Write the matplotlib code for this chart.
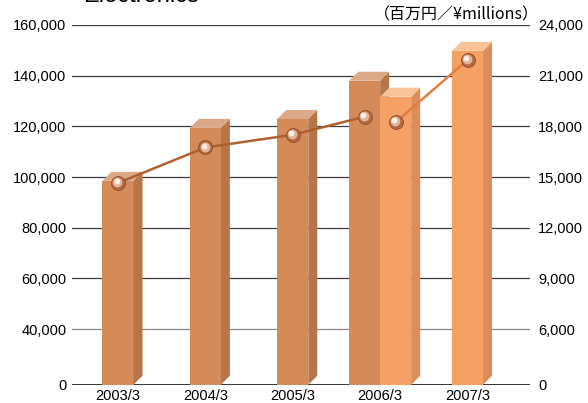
import numpy as np
import matplotlib
matplotlib.use('Agg')
import matplotlib.pyplot as plt
from matplotlib.patches import Polygon
from matplotlib.transforms import IdentityTransform

plt.rcParams['font.family'] = ['Liberation Sans', 'DejaVu Sans']

# data
years = ['2003/3', '2004/3', '2005/3', '2006/3', '2007/3']
sales_old = [98500, 119400, 122900, 138000]        # left axis, 2003-2006
sales_new = [131700, 149800]                        # left axis, 2006-2007
income_old = [14650, 16750, 17500, 18570]           # right axis
income_new = [18240, 21930]
left_ticks = [0, 40000, 60000, 80000, 100000, 120000, 140000, 160000]
right_ticks = [0, 6000, 9000, 12000, 15000, 18000, 21000, 24000]

# the bottom 0-40,000 band is squeezed, like the original
K = 0.549


def fwd(v):
    v = np.asarray(v, dtype=float)
    return np.where(v >= 40000, v, 40000 - (40000 - v) * K)


def inv(u):
    u = np.asarray(u, dtype=float)
    return np.where(u >= 40000, u, 40000 - (40000 - u) / K)


fig = plt.figure(figsize=(5.88, 4.03), dpi=100)
ax = fig.add_axes([72 / 588, (403 - 384.7) / 403, 458 / 588, (384.7 - 25) / 403])
ax.set_yscale('function', functions=(fwd, inv))
ax.set_ylim(0, 160000)
ax.set_xlim(-0.5265, 4.715)

ax2 = ax.twinx()
ax2.set_yscale('function', functions=(lambda v: fwd(np.asarray(v) / 0.15),
                                      lambda u: inv(u) * 0.15))
ax2.set_ylim(0, 24000)

for a in (ax, ax2):
    for s in a.spines.values():
        s.set_visible(False)
    a.tick_params(length=0, labelsize=10.5)

ax.set_yticks(left_ticks)
ax.set_yticklabels([f'{t:,}' for t in left_ticks])
ax.tick_params(axis='y', pad=4)
ax2.set_yticks(right_ticks)
ax2.set_yticklabels([f'{t:,}' for t in right_ticks])
ax2.tick_params(axis='y', pad=6)
ax.set_xticks(range(len(years)))
ax.set_xticklabels(years)
ax.tick_params(axis='x', pad=3)

for t in left_ticks[1:]:
    ax.axhline(t, color='#888888' if t == 40000 else '#3c3c3c', lw=0.9, zorder=0.5)
ax.axhline(0, color='black', lw=1.1, zorder=0.5)

W = 0.355
off = 0.1775
DX, DY = 9, 9

dark = dict(front='#d58b59', side='#b87548', top='#dba888')
light = dict(front='#f5a064', side='#db8d5a', top='#f8c398')


def box(xc, h, c):
    ax.bar(xc, h, width=W, color=c['front'], zorder=2)
    x0, y0 = ax.transData.transform((xc - W / 2, 0))
    x1, y1 = ax.transData.transform((xc + W / 2, h))
    side = [(x1, y0), (x1, y1), (x1 + DX, y1 + DY), (x1 + DX, y0 + DY)]
    top = [(x0, y1), (x1, y1), (x1 + DX, y1 + DY), (x0 + DX, y1 + DY)]
    ax.add_patch(Polygon(side, closed=True, transform=IdentityTransform(),
                         color=c['side'], lw=0, zorder=2))
    ax.add_patch(Polygon(top, closed=True, transform=IdentityTransform(),
                         color=c['top'], lw=0, zorder=2))


x_old = [0, 1, 2, 3 - off]
x_new = [3 + off, 4]
for x, h in zip(x_old, sales_old):
    box(x, h, dark)
for x, h in zip(x_new, sales_new):
    box(x, h, light)

# lines with sphere-like markers
ax2.plot(x_old, income_old, color='#b0602f', lw=1.8, zorder=3)
ax2.plot(x_new, income_new, color='#e47d40', lw=1.8, zorder=3)
xs = np.array(x_old + x_new)
ys = np.array(income_old + income_new)
ax2.plot(xs, ys, 'o', ms=10, mfc='#b5683f', mec='#8f4d28', mew=0.6, zorder=4)
ax2.plot(xs - 0.008, ys + 50, 'o', ms=7, mfc='#e2b79c', mec='none', zorder=5)
ax2.plot(xs - 0.016, ys + 110, 'o', ms=4, mfc='#fbf1ea', mec='none', zorder=6)

ax.text(1.0 + 9 / 458, 1.0 + 2 / 360, '（百万円／¥millions）', transform=ax.transAxes,
        ha='right', va='bottom', fontsize=11.5,
        family=['Noto Sans CJK JP', 'DejaVu Sans'])

fig.text(83 / 588, 1 - 2.5 / 403, 'Electronics', fontsize=17, va='baseline')

fig.savefig('out.png', dpi=100)
